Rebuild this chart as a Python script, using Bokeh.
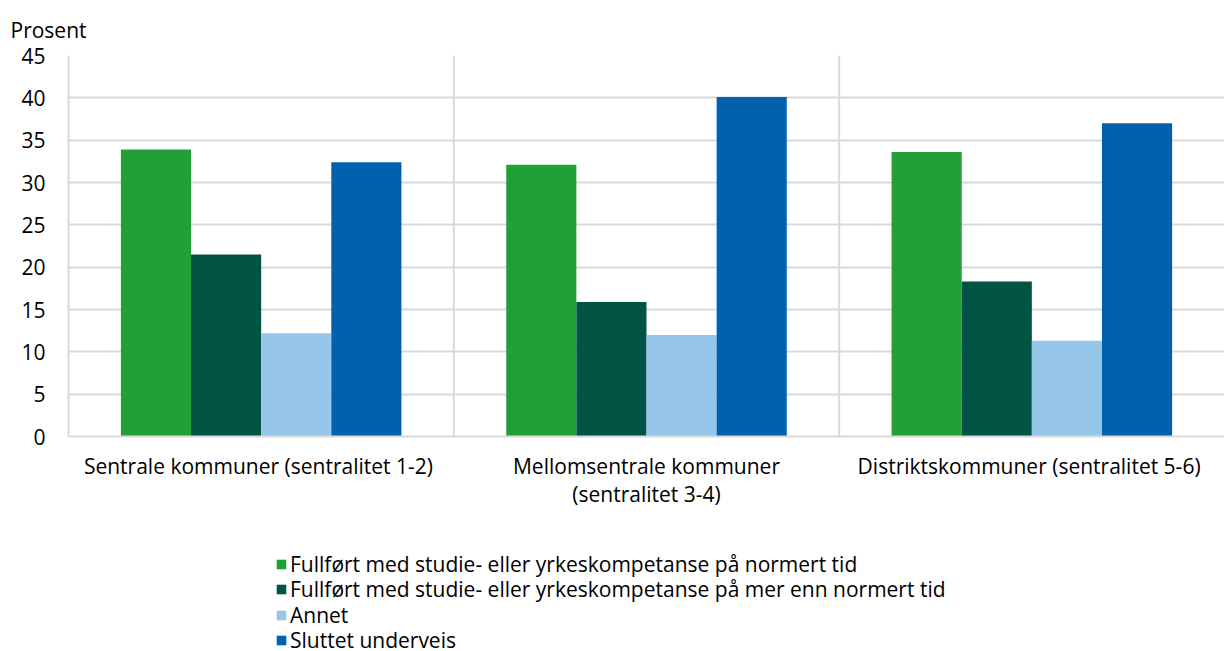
from bokeh.plotting import figure
from bokeh.layouts import column
from bokeh.models import FactorRange, Span, Legend, LegendItem, SingleIntervalTicker, ColumnDataSource, Title
from bokeh.transform import dodge
from bokeh.embed import file_html
from bokeh.resources import INLINE

categories = ["Sentrale kommuner  (sentralitet 1-2)",
              "Mellomsentrale kommuner\n(sentralitet 3-4)",
              "Distriktskommuner  (sentralitet 5-6)"]
series_names = ["Fullført med studie- eller yrkeskompetanse på normert tid",
                "Fullført med studie- eller yrkeskompetanse på mer enn normert tid",
                "Annet",
                "Sluttet underveis"]
fullfort_normert = [33.9, 32.1, 33.6]
fullfort_mer = [21.5, 15.9, 18.3]
annet = [12.2, 12.0, 11.3]
sluttet = [32.4, 40.1, 37.0]
colors = ["#21A038", "#015444", "#96C6EA", "#0062AE"]

FONT = "Open Sans"
FS = "21px"

source = ColumnDataSource(dict(cat=categories, s0=fullfort_normert, s1=fullfort_mer,
                               s2=annet, s3=sluttet))

p = figure(x_range=FactorRange(factors=categories, range_padding=0),
           y_range=(0, 45), width=1224, height=541,
           output_backend="svg", toolbar_location=None,
           min_border_left=68, min_border_right=0, min_border_top=55, min_border_bottom=105)
p.outline_line_color = None

bw = 0.182
offsets = [-1.5 * bw, -0.5 * bw, 0.5 * bw, 1.5 * bw]
for i, key in enumerate(["s0", "s1", "s2", "s3"]):
    p.vbar(x=dodge("cat", offsets[i], range=p.x_range), top=key, width=bw,
           source=source, fill_color=colors[i], line_color=None)

# separators between categories
for loc in [1, 2]:
    p.add_layout(Span(location=loc, dimension="height", line_color="#d9d9d9", line_width=2))

p.yaxis.ticker = SingleIntervalTicker(interval=5)
p.ygrid.ticker = SingleIntervalTicker(interval=5)
p.ygrid.grid_line_color = "#d9d9d9"
p.ygrid.grid_line_width = 2
p.xgrid.grid_line_color = None

for ax in [p.xaxis[0], p.yaxis[0]]:
    ax.axis_line_color = "#d9d9d9"
    ax.axis_line_width = 2
    ax.major_tick_line_color = None
    ax.minor_tick_line_color = None
    ax.major_label_text_font = FONT
    ax.major_label_text_font_size = FS
    ax.major_label_text_color = "#000000"

p.yaxis.major_label_standoff = 17
p.xaxis.major_label_standoff = 9
p.xaxis.major_label_text_line_height = 1.0

p.add_layout(Title(text="Prosent", align="left", offset=-58, standoff=24,
                   text_font=FONT, text_font_size=FS, text_font_style="normal",
                   text_color="#000000"), "above")

# legend figure (one legend per row to match the row pitch)
pl = figure(width=1224, height=110, x_range=(0, 1), y_range=(0, 1),
            x_axis_location=None, y_axis_location=None,
            output_backend="svg", toolbar_location=None,
            min_border_left=0, min_border_right=0, min_border_top=0, min_border_bottom=0)
pl.grid.visible = False
pl.outline_line_color = None
row_bottoms = [73, 48, 22, -3]
for i in range(4):
    dsrc = ColumnDataSource(dict(x=[0.0], top=[float("nan")]))
    r = pl.vbar(x="x", top="top", width=0.1, source=dsrc,
                fill_color=colors[i], line_color=None)
    lg = Legend(items=[LegendItem(label=series_names[i], renderers=[r])],
                location=(207, row_bottoms[i]), orientation="vertical",
                label_text_font=FONT, label_text_font_size=FS, label_text_color="#000000",
                glyph_width=12, glyph_height=12, label_height=25, label_standoff=3,
                spacing=0, padding=0, margin=0, border_line_color=None,
                background_fill_alpha=0)
    pl.add_layout(lg, "center")

open("out.html", "w").write(file_html(column(p, pl), INLINE))
